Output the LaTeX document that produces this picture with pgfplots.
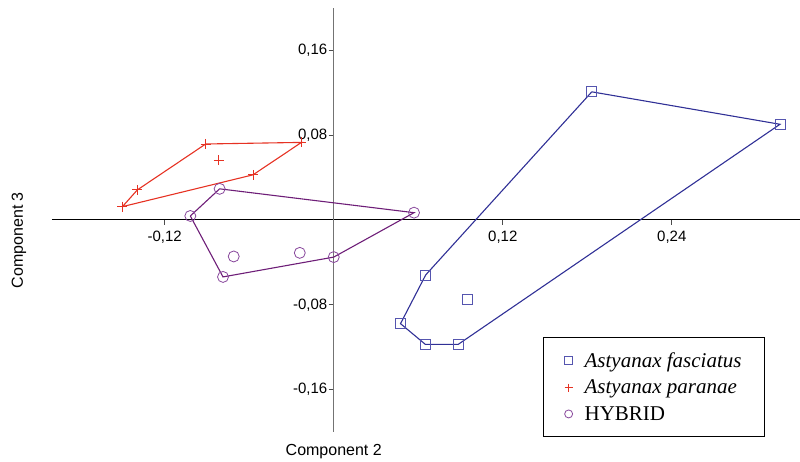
\documentclass[border=0pt]{standalone}
\usepackage{pgfplots}
\pgfplotsset{compat=1.18}
\usepackage{fontspec}
\setmainfont{Liberation Sans}
\newfontfamily\serif{Liberation Serif}
\definecolor{blueline}{RGB}{48,48,150}
\definecolor{bluemark}{RGB}{85,85,175}
\definecolor{redc}{RGB}{230,50,35}
\definecolor{purpline}{RGB}{110,30,120}
\definecolor{purpmark}{RGB}{135,70,155}
\begin{document}
\begin{tikzpicture}
\begin{axis}[
  at={(0,0)}, anchor=south west,
  scale only axis, width=748pt, height=424pt,
  xmin=-0.2, xmax=0.331, ymin=-0.2, ymax=0.2,
  axis lines=middle,
  x axis line style={-, black, line width=1pt},
  y axis line style={-, black!55, line width=1.4pt},
  tick align=outside,
  major tick length=5pt,
  xtick={-0.12,0.12,0.24},
  xticklabels={{-0,12},{0,12},{0,24}},
  ytick={-0.16,-0.08,0.08,0.16},
  yticklabels={{-0,16},{-0,08},{0,08},{0,16}},
  tick label style={font=\fontsize{15}{18}\selectfont},
  x tick label style={yshift=-2pt},
  y tick label style={xshift=2pt},
  tick style={black!70, line width=0.8pt},
  clip=false,
  legend cell align=left,
  legend image post style={mark size=4pt},
  legend style={
    at={(axis description cs:0.6564,0.224)}, anchor=north west,
    font=\fontsize{21}{24}\selectfont\serif,
    draw=black, line width=1.3pt,
    inner xsep=21pt, inner ysep=13pt,
    row sep=7pt,
    /tikz/every even column/.append style={column sep=6pt},
    /tikz/every odd column/.append style={column sep=10pt},
  },
]
% hull lines
\addplot[blueline, line width=1.1pt, no marks, forget plot] coordinates {
(0.1832,0.1209) (0.3168,0.0903) (0.0883,-0.1174) (0.0651,-0.1174)
(0.0474,-0.0978) (0.0653,-0.0518) (0.1832,0.1209)};
\addplot[redc, line width=1.1pt, no marks, forget plot] coordinates {
(-0.150,0.0126) (-0.1394,0.0284) (-0.0909,0.0717) (-0.0229,0.0732)
(-0.0573,0.0426) (-0.150,0.0126)};
\addplot[purpline, line width=1.1pt, no marks, forget plot] coordinates {
(-0.1018,0.0038) (-0.081,0.0294) (0.057,0.0069) (0.0,-0.035)
(-0.0786,-0.0537) (-0.1018,0.0038)};
% points
\addplot[only marks, mark=square, mark size=5pt, bluemark, line width=0.8pt] coordinates {
(0.1832,0.1209) (0.3168,0.0903) (0.0883,-0.1174) (0.0651,-0.1174)
(0.0474,-0.0978) (0.0653,-0.0518) (0.0952,-0.0745)};
\addplot[only marks, mark=+, mark size=5pt, redc, line width=0.8pt] coordinates {
(-0.150,0.0126) (-0.1394,0.0284) (-0.0909,0.0717) (-0.0229,0.0732)
(-0.0573,0.0426) (-0.0817,0.0565)};
\addplot[only marks, mark=o, mark size=5.5pt, purpmark, line width=0.8pt] coordinates {
(-0.1018,0.0038) (-0.081,0.0294) (0.057,0.0069) (0.0,-0.035)
(-0.0786,-0.0537) (-0.071,-0.0344) (-0.0241,-0.031)};
\legend{\textit{Astyanax fasciatus}, \textit{Astyanax paranae}, HYBRID}
\node[font=\fontsize{16}{19}\selectfont, yshift=-20pt] at (axis cs:0,-0.2) {Component 2};
\node[font=\fontsize{16}{19}\selectfont, rotate=90, xshift=0pt] at ([xshift=-33pt]axis cs:-0.2,-0.019) {Component 3};
\end{axis}
\pgfresetboundingbox
\path[use as bounding box] (-52pt,-30pt) rectangle (748pt,432pt);
\end{tikzpicture}
\end{document}
